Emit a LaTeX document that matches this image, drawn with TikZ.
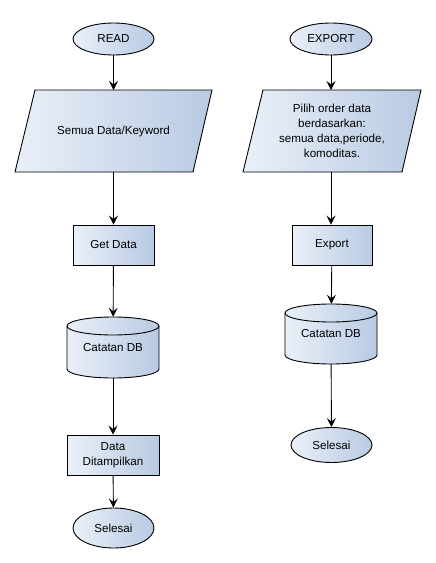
\documentclass[tikz,border=0pt]{standalone}
\usepackage{fontspec}
\setmainfont{Liberation Sans}
\usetikzlibrary{arrows.meta}
\definecolor{fillL}{HTML}{EAF0F8}
\definecolor{fillR}{HTML}{B8CAE3}
\tikzset{
  x=1pt,y=-1pt,
  boxfill/.style={left color=fillL,right color=fillR,draw=black,line width=0.9pt},
  lbl/.style={font=\fontsize{11.6}{14.8}\selectfont,align=center,inner sep=0pt},
  term/.style={ellipse,boxfill,lbl},
  proc/.style={rectangle,boxfill,lbl},
  flow/.style={draw=black,line width=0.9pt,-{Stealth[length=9pt,width=9pt,inset=3.5pt]}},
}
\usetikzlibrary{shapes.geometric}
\begin{document}
\begin{tikzpicture}
\useasboundingbox (0,0) rectangle (436,563);
% ---------- left column ----------
\node[term,minimum width=81pt,minimum height=32pt] (read) at (113.5,39) {READ};
\path[boxfill] (35,90) -- (212,90) -- (193,172) -- (15,172) -- cycle;
\node[lbl,minimum width=160pt,minimum height=82pt] (inp1) at (113.5,131) {Semua Data/Keyword};
\node[proc,minimum width=81pt,minimum height=40pt] (get) at (113.5,245) {Get Data};
\path[boxfill] (67,326) arc[x radius=46,y radius=9,start angle=180,end angle=360] -- (159,369)
  arc[x radius=46,y radius=9,start angle=0,end angle=180] -- cycle;
\draw[line width=0.9pt] (67,326) arc[x radius=46,y radius=9,start angle=180,end angle=0];
\node[lbl,minimum width=92pt,minimum height=61pt] (db1) at (113,347.5) {\raisebox{-3pt}{Catatan DB}};
\node[proc,minimum width=92pt,minimum height=40pt] (show) at (113,455) {Data\\Ditampilkan};
\node[term,minimum width=81pt,minimum height=40pt] (end1) at (113.5,528) {Selesai};
\draw[flow] (read) -- (113.5,90);
\draw[flow] (113.5,172) -- (get);
\draw[flow] (get) -- (db1);
\draw[flow] (db1) -- (show);
\draw[flow] (show) -- (end1);
% ---------- right column ----------
\node[term,minimum width=82pt,minimum height=32pt] (exp) at (331,39) {EXPORT};
\path[boxfill] (263,90) -- (421,90) -- (402,172) -- (243,172) -- cycle;
\node[lbl,minimum width=140pt,minimum height=82pt] (inp2) at (332,131) {Pilih order data\\berdasarkan:\\semua data,periode,\\komoditas.};
\node[proc,minimum width=80pt,minimum height=40pt] (export) at (332,245) {Export};
\path[boxfill] (285,313) arc[x radius=46,y radius=9,start angle=180,end angle=360] -- (377,355)
  arc[x radius=46,y radius=9,start angle=0,end angle=180] -- cycle;
\draw[line width=0.9pt] (285,313) arc[x radius=46,y radius=9,start angle=180,end angle=0];
\node[lbl,minimum width=92pt,minimum height=60pt] (db2) at (331,334) {\raisebox{-3pt}{Catatan DB}};
\node[term,minimum width=81pt,minimum height=35pt] (end2) at (331.5,445) {Selesai};
\draw[flow] (exp) -- (331,90);
\draw[flow] (331,172) -- (export.north -| 331,0);
\draw[flow] (export) -- (db2);
\draw[flow] (db2) -- (end2);
\end{tikzpicture}
\end{document}
